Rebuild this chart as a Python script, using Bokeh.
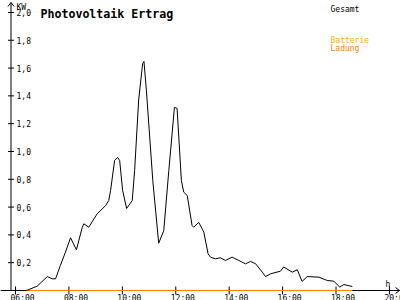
from bokeh.plotting import figure
from bokeh.models import Range1d
from bokeh.core.properties import value
from bokeh.embed import file_html
from bokeh.resources import INLINE

# ---- data ----
hours = [5.45, 6.40, 6.50, 6.81, 7.19, 7.37, 7.50, 7.68, 7.87, 8.06, 8.28, 8.50, 8.56, 8.74,
         9.06, 9.37, 9.49, 9.56, 9.71, 9.82, 9.90, 10.01, 10.16, 10.37, 10.46, 10.61, 10.76,
         10.81, 10.90, 11.14, 11.36, 11.55, 11.74, 11.95, 12.05, 12.21, 12.30, 12.43, 12.61,
         12.67, 12.86, 13.05, 13.21, 13.30, 13.48, 13.67, 13.86, 14.11, 14.36, 14.61, 14.80,
         14.99, 15.24, 15.36, 15.55, 15.92, 16.04, 16.36, 16.55, 16.73, 16.92, 17.36, 17.67,
         17.92, 18.14, 18.29, 18.48, 18.61]
gesamt = [0.0, 0.0, 0.007, 0.031, 0.10, 0.084, 0.084, 0.18, 0.276, 0.379, 0.293, 0.455, 0.48,
          0.455, 0.552, 0.61, 0.647, 0.72, 0.935, 0.957, 0.935, 0.72, 0.59, 0.647, 0.863, 1.37,
          1.633, 1.647, 1.44, 0.79, 0.34, 0.43, 0.863, 1.317, 1.31, 0.79, 0.707, 0.683, 0.468,
          0.455, 0.49, 0.42, 0.264, 0.24, 0.228, 0.235, 0.216, 0.24, 0.216, 0.192, 0.209, 0.192,
          0.132, 0.10, 0.12, 0.139, 0.169, 0.132, 0.149, 0.065, 0.10, 0.096, 0.072, 0.067,
          0.024, 0.043, 0.034, 0.029]
ladung_hours = [5.44, 18.61]
ladung = [0.0, 0.0]
y_ticks = [0.2, 0.4, 0.6, 0.8, 1.0, 1.2, 1.4, 1.6, 1.8, 2.0]
y_labels = ["0,2", "0,4", "0,6", "0,8", "1,0", "1,2", "1,4", "1,6", "1,8", "2,0"]
x_ticks = [6, 8, 10, 12, 14, 16, 18, 20]
x_labels = ["06:00", "08:00", "10:00", "12:00", "14:00", "16:00", "18:00", "20:00"]

W, H = 400, 300
X0, X1 = 5.438, 20.414
Y0, Y1 = -0.072, 2.086

def px(x):
    return X0 + x / W * (X1 - X0)

def py(y):
    return Y1 - y / H * (Y1 - Y0)

p = figure(width=W, height=H, output_backend="svg", toolbar_location=None,
           x_range=Range1d(X0, X1), y_range=Range1d(Y0, Y1), min_border=0)
p.axis.visible = False
p.grid.visible = False
p.outline_line_color = None
p.background_fill_color = "white"

font = value("DejaVu Sans Mono")

# axes lines
ax_x = px(10.5)
p.segment(x0=[X0, ax_x], y0=[0, 0], x1=[px(400), ax_x], y1=[0, py(2)], line_color="black", line_width=1)
# arrows
p.segment(x0=[ax_x, ax_x, px(399), px(399)], y0=[py(2), py(2), 0, 0],
          x1=[px(7.5), px(13.5), px(395), px(395)], y1=[py(6), py(6), py(287), py(293)],
          line_color="black", line_width=1)
# y ticks
p.segment(x0=[px(7.5)] * len(y_ticks), y0=y_ticks, x1=[px(13.5)] * len(y_ticks), y1=y_ticks,
          line_color="black", line_width=1)
p.text(x=[px(16)] * len(y_ticks), y=y_ticks, text=y_labels, text_font=font, text_font_size="8px",
       text_baseline="middle", text_align="left", text_color="black")
# x ticks
p.segment(x0=x_ticks, y0=[py(286)] * len(x_ticks), x1=x_ticks, y1=[py(294)] * len(x_ticks),
          line_color="black", line_width=1)
p.text(x=x_ticks, y=[py(298)] * len(x_ticks), text=x_labels, text_font=font, text_font_size="8px",
       text_baseline="alphabetic", text_align="left", x_offset=-5, text_color="black")

# unit labels
p.text(x=[px(16), px(385)], y=[py(7), py(284)], text=["KW", "h"], text_font=font,
       text_font_size="8px", text_baseline="alphabetic", text_align="left", text_color="black")

# title
p.text(x=[px(40)], y=[py(13)], text=["Photovoltaik Ertrag"], text_font=font, text_font_size="11.6px",
       text_font_style="bold", text_baseline="alphabetic", text_align="left", text_color="black")

# legend
p.text(x=[px(330)] * 3, y=[py(8.5), py(39.5), py(47.5)], text=["Gesamt", "Batterie", "Ladung"],
       text_color=["black", "#FFB000", "#FF8000"], text_font=font, text_font_size="8px",
       text_baseline="alphabetic", text_align="left")

# series
p.line(ladung_hours, ladung, line_color="#FF8000", line_width=1.2)
p.line(hours, gesamt, line_color="black", line_width=1)

open("out.html", "w").write(file_html(p, INLINE))
